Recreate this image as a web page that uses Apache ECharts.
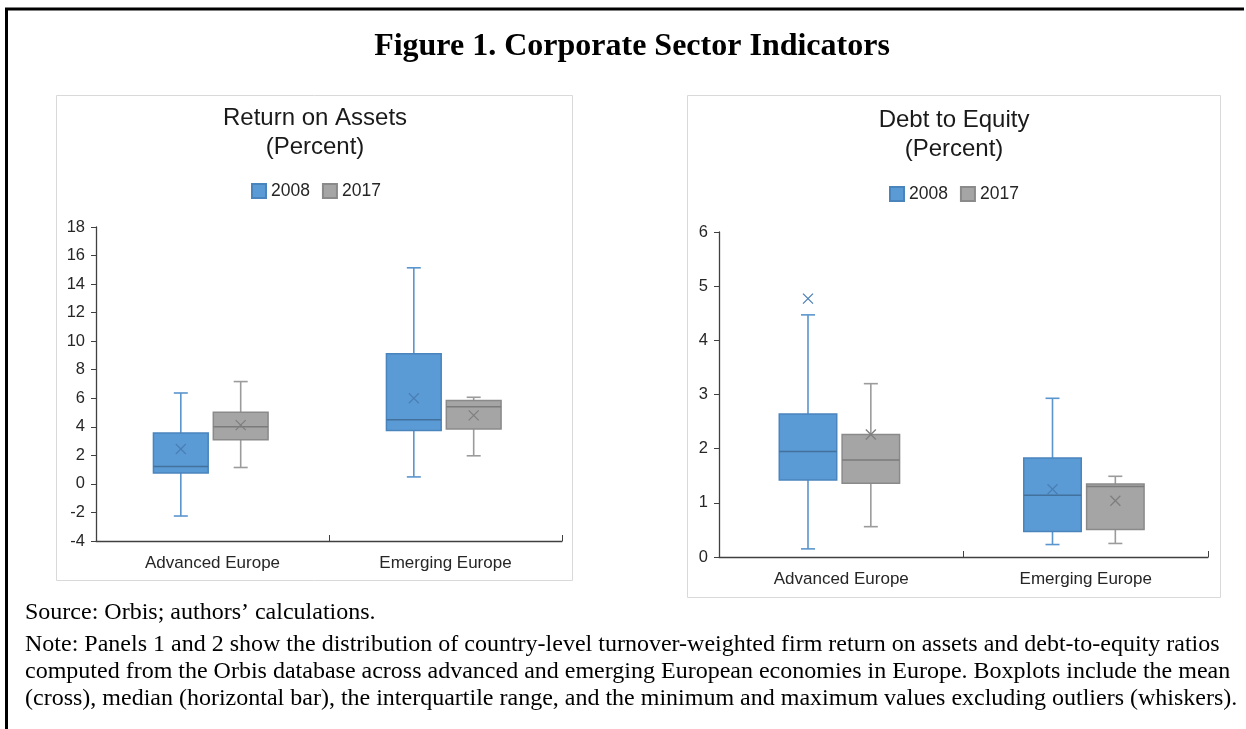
<!DOCTYPE html>
<html>
<head>
<meta charset="utf-8">
<script src="https://cdn.jsdelivr.net/npm/echarts@6/dist/echarts.min.js"></script>
<style>
  html, body { margin: 0; padding: 0; background: #fff; }
  #chart { width: 1246px; height: 729px; }
</style>
</head>
<body>
<div id="chart"></div>
<script>
const categories = ['Advanced Europe', 'Emerging Europe'];
const years = ['2008', '2017'];

// each row: [min, q1, median, q3, max, mean]
const roa2008 = [[-2.25, 0.77, 1.22, 3.56, 6.37, 2.44], [0.49, 3.75, 4.5, 9.12, 15.14, 6.0]];
const roa2017 = [[1.15, 3.09, 4.01, 5.02, 7.17, 4.12], [1.97, 3.84, 5.41, 5.84, 6.07, 4.8]];
const de2008 = [[0.15, 1.42, 1.95, 2.64, 4.47, 4.77], [0.23, 0.47, 1.14, 1.83, 2.93, 1.25]];
const de2017 = [[0.56, 1.36, 1.79, 2.26, 3.2, 2.26], [0.25, 0.51, 1.3, 1.35, 1.49, 1.04]];

const roaAxis = { min: -4, max: 18, interval: 2 };
const deAxis = { min: 0, max: 6, interval: 1 };

const noteLines = [
  'Source: Orbis; authors\u2019 calculations.',
  'Note: Panels 1 and 2 show the distribution of country-level turnover-weighted firm return on assets and debt-to-equity ratios',
  'computed from the Orbis database across advanced and emerging European economies in Europe. Boxplots include the mean',
  '(cross), median (horizontal bar), the interquartile range, and the minimum and maximum values excluding outliers (whiskers).'
];

const SANS = 'Liberation Sans, Arial, sans-serif';
const SERIF = 'Liberation Serif, Times New Roman, serif';

const yearStyle = {
  '2008': { fill: '#5B9BD5', border: '#4a84bd', whisker: '#5b95cd', median: '#41719c', cross: '#4a7fb5', offset: -0.136 },
  '2017': { fill: '#A5A5A5', border: '#8a8a8a', whisker: '#9b9b9b', median: '#7b7b7b', cross: '#7f7f7f', offset: 0.121 }
};
const boxFrac = 0.235;

const chart = echarts.init(document.getElementById('chart'));

function makeRender(year) {
  const s = yearStyle[year];
  return function (params, api) {
    const cat = api.value(0);
    const band = api.size([1, 0])[0];
    const cx = api.coord([cat, 0])[0] + s.offset * band;
    const half = boxFrac * band / 2;
    const y = i => api.coord([cat, api.value(i)])[1];
    const yMin = y(1), yQ1 = y(2), yMed = y(3), yQ3 = y(4), yMax = y(5), yMean = y(6);
    const cap = 7, cr = 5;
    const wStyle = { stroke: s.whisker, lineWidth: 1.6 };
    const cStyle = { stroke: s.cross, lineWidth: 1.3 };
    return {
      type: 'group',
      children: [
        { type: 'line', shape: { x1: cx, y1: yMax, x2: cx, y2: yQ3 }, style: wStyle },
        { type: 'line', shape: { x1: cx, y1: yQ1, x2: cx, y2: yMin }, style: wStyle },
        { type: 'line', shape: { x1: cx - cap, y1: yMax, x2: cx + cap, y2: yMax }, style: wStyle },
        { type: 'line', shape: { x1: cx - cap, y1: yMin, x2: cx + cap, y2: yMin }, style: wStyle },
        { type: 'rect', shape: { x: cx - half, y: yQ3, width: 2 * half, height: yQ1 - yQ3 },
          style: { fill: s.fill, stroke: s.border, lineWidth: 1.5 } },
        { type: 'line', shape: { x1: cx - half, y1: yMed, x2: cx + half, y2: yMed },
          style: { stroke: s.median, lineWidth: 1.5 } },
        { type: 'line', shape: { x1: cx - cr, y1: yMean - cr, x2: cx + cr, y2: yMean + cr }, style: cStyle },
        { type: 'line', shape: { x1: cx - cr, y1: yMean + cr, x2: cx + cr, y2: yMean - cr }, style: cStyle }
      ]
    };
  };
}

function boxSeries(year, rows, idx) {
  const s = yearStyle[year];
  return {
    name: year,
    type: 'custom',
    xAxisIndex: idx,
    yAxisIndex: idx,
    renderItem: makeRender(year),
    encode: { x: 0, y: [1, 2, 3, 4, 5, 6] },
    itemStyle: { color: s.fill, borderColor: s.border, borderWidth: 1 },
    data: rows.map((r, i) => [i].concat(r))
  };
}

const catAxis = idx => ({
  type: 'category',
  gridIndex: idx,
  data: categories,
  axisLine: { onZero: false, lineStyle: { color: '#404040', width: 1.3 } },
  axisTick: { show: true, inside: true, length: 6, lineStyle: { color: '#404040' } },
  axisLabel: { fontFamily: SANS, fontSize: 17, color: '#262626', margin: 14 }
});

const valAxis = (idx, ax) => ({
  type: 'value',
  gridIndex: idx,
  min: ax.min,
  max: ax.max,
  interval: ax.interval,
  axisLine: { show: true, lineStyle: { color: '#404040', width: 1.3 } },
  axisTick: { show: true, length: 5, lineStyle: { color: '#404040' } },
  splitLine: { show: false },
  axisLabel: { fontFamily: SANS, fontSize: 16.5, color: '#262626', margin: 11 }
});

const legendCfg = (x, top) => ({
  data: years,
  left: x,
  top: top,
  itemWidth: 14,
  itemHeight: 14,
  itemGap: 12,
  icon: 'rect',
  padding: 0,
  textStyle: { fontFamily: SANS, fontSize: 17.5, color: '#262626' },
  selectedMode: false
});

const option = {
  animation: false,
  title: [
    { text: 'Return on Assets\n(Percent)', left: 315, top: 103.5, textAlign: 'center', padding: 0,
      textStyle: { fontFamily: SANS, fontSize: 24, fontWeight: 'normal', color: '#1a1a1a', lineHeight: 29 } },
    { text: 'Debt to Equity\n(Percent)', left: 954, top: 105.5, textAlign: 'center', padding: 0,
      textStyle: { fontFamily: SANS, fontSize: 24, fontWeight: 'normal', color: '#1a1a1a', lineHeight: 29 } }
  ],
  legend: [legendCfg(251, 182), legendCfg(889, 185)],
  grid: [
    { left: 96, top: 227, width: 466, height: 314 },
    { left: 719, top: 232, width: 489, height: 325 }
  ],
  xAxis: [catAxis(0), catAxis(1)],
  yAxis: [valAxis(0, roaAxis), valAxis(1, deAxis)],
  series: [
    boxSeries('2008', roa2008, 0),
    boxSeries('2017', roa2017, 0),
    boxSeries('2008', de2008, 1),
    boxSeries('2017', de2017, 1)
  ],
  graphic: [
    // outer frame
    { type: 'line', shape: { x1: 5, y1: 9, x2: 1244, y2: 9 }, style: { stroke: '#000', lineWidth: 3 } },
    { type: 'line', shape: { x1: 6.5, y1: 9, x2: 6.5, y2: 729 }, style: { stroke: '#000', lineWidth: 3 } },
    // panel borders
    { type: 'rect', shape: { x: 56.5, y: 95.5, width: 516, height: 485 }, style: { fill: 'none', stroke: '#d9d9d9', lineWidth: 1 }, z: -1 },
    { type: 'rect', shape: { x: 687.5, y: 95.5, width: 533, height: 502 }, style: { fill: 'none', stroke: '#d9d9d9', lineWidth: 1 }, z: -1 },
    // figure title
    { type: 'text', x: 632, y: 47,
      style: { text: 'Figure 1. Corporate Sector Indicators', fontFamily: SERIF, fontSize: 32, fontWeight: 'bold',
               fill: '#000', textAlign: 'center', textVerticalAlign: 'middle' } }
  ].concat(noteLines.map((t, i) => ({
    type: 'text', x: 25, y: [613, 645, 672, 699][i],
    style: { text: t, fontFamily: SERIF, fontSize: 24, fill: '#000', textAlign: 'left', textVerticalAlign: 'middle' }
  })))
};

chart.setOption(option);
</script>
</body>
</html>
